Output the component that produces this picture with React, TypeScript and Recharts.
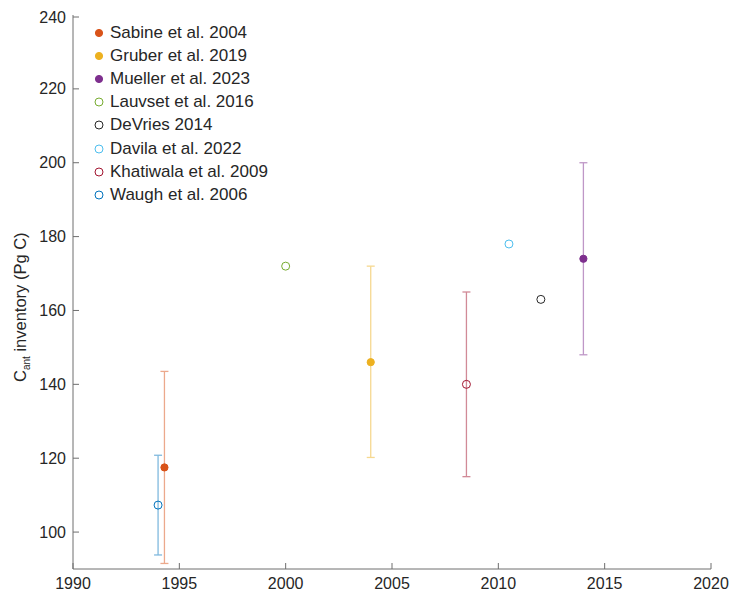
import React from 'react';
import { ScatterChart, Scatter, XAxis, YAxis, ErrorBar, Legend } from 'recharts';

// estimates of anthropogenic carbon inventory
const names = [
  'Sabine et al. 2004',
  'Gruber et al. 2019',
  'Mueller et al. 2023',
  'Lauvset et al. 2016',
  'DeVries 2014',
  'Davila et al. 2022',
  'Khatiwala et al. 2009',
  'Waugh et al. 2006',
];
const years = [1994.3, 2004, 2014, 2000, 2012, 2010.5, 2008.5, 1994];
const inventory = [117.5, 146, 174, 172, 163, 178, 140, 107.3];
const errLow = [26, 25.8, 26, 0, 0, 0, 25, 13.5];
const errHigh = [26, 26, 26, 0, 0, 0, 25, 13.5];
const filled = [true, true, true, false, false, false, false, false];

const xTicks = [1990, 1995, 2000, 2005, 2010, 2015, 2020];
const yTicks = [100, 120, 140, 160, 180, 200, 220, 240];

const colors = ['#D95319', '#EDB120', '#7E2F8E', '#77AC30', '#262626', '#4DBEEE', '#A2142F', '#0072BD'];

const W = 735;
const H = 585;
const PL = 65;
const PT = 7;
const PR = 703;
const PB = 561;
const AXIS = '#6e6e6e';
const TEXT = '#262626';
const FONT = '"Liberation Sans", Arial, sans-serif';

const lighten = (hex: string, t: number) => {
  const n = parseInt(hex.slice(1), 16);
  const ch = [(n >> 16) & 255, (n >> 8) & 255, n & 255].map((c) => Math.round(c + (255 - c) * t));
  return '#' + ch.map((c) => c.toString(16).padStart(2, '0')).join('');
};

const series = names.map((name, i) => ({
  name,
  color: colors[i],
  filled: filled[i],
  hasErr: errLow[i] > 0,
  data: [{ year: years[i], value: inventory[i], err: [errLow[i], errHigh[i]] }],
}));

const XTick = (props: any) => {
  const { x, payload } = props;
  return (
    <g>
      <line x1={x} y1={PB} x2={x} y2={PB - 6} stroke={AXIS} />
      <text x={x} y={PB + 20} textAnchor="middle" fontSize={16} fill={TEXT} fontFamily={FONT}>
        {payload.value}
      </text>
    </g>
  );
};

const YTick = (props: any) => {
  const { y, payload } = props;
  return (
    <g>
      <line x1={PL} y1={y} x2={PL + 6} y2={y} stroke={AXIS} />
      <text x={PL - 7} y={y} textAnchor="end" dominantBaseline="central" fontSize={16} fill={TEXT} fontFamily={FONT}>
        {payload.value}
      </text>
    </g>
  );
};

const YLabel = () => (
  <text x={18} y={374} transform="rotate(-90 18 374)" fontSize={16.5} fill={TEXT} fontFamily={FONT}>
    <tspan>C</tspan>
    <tspan fontSize={10} dy={4}>ant</tspan>
    <tspan dy={-4}> inventory (Pg C)</tspan>
  </text>
);

const marker = (color: string, isFilled: boolean) => (props: any) => (
  <circle
    cx={props.cx}
    cy={props.cy}
    r={isFilled ? 3.6 : 4}
    fill={isFilled ? color : 'none'}
    stroke={color}
    strokeWidth={1}
  />
);

const LegendBox = () => (
  <div style={{ fontFamily: FONT, fontSize: 17, color: TEXT }}>
    {series.map((s) => (
      <div key={s.name} style={{ height: 23.2, display: 'flex', alignItems: 'center', whiteSpace: 'nowrap' }}>
        <svg width={14} height={12} style={{ marginRight: 4 }}>
          <circle cx={7} cy={6} r={s.filled ? 3.6 : 4} fill={s.filled ? s.color : 'none'} stroke={s.color} />
        </svg>
        <span>{s.name}</span>
      </div>
    ))}
  </div>
);

export default function App() {
  return (
    <div style={{ width: W, height: H, fontFamily: FONT }}>
      <ScatterChart width={W} height={H} margin={{ top: PT, right: W - PR, bottom: 0, left: 20 }}>
        <XAxis
          type="number"
          dataKey="year"
          domain={[1990, 2020]}
          ticks={xTicks}
          allowDataOverflow
          height={H - PB}
          axisLine={{ stroke: AXIS }}
          tickLine={false}
          tick={<XTick />}
        />
        <YAxis
          type="number"
          dataKey="value"
          domain={[90, 240]}
          ticks={yTicks}
          allowDataOverflow
          width={PL - 20}
          axisLine={{ stroke: AXIS }}
          tickLine={false}
          tick={<YTick />}
          label={<YLabel />}
        />
        <Legend
          layout="horizontal"
          verticalAlign="middle"
          align="center"
          wrapperStyle={{ top: 13, left: 84, width: 'auto' }}
          content={<LegendBox />}
        />
        {series.map((s) => (
          <Scatter key={s.name} name={s.name} data={s.data} shape={marker(s.color, s.filled)} isAnimationActive={false}>
            {s.hasErr && (
              <ErrorBar dataKey="err" direction="y" width={4} stroke={lighten(s.color, 0.5)} strokeWidth={1.3} />
            )}
          </Scatter>
        ))}
      </ScatterChart>
    </div>
  );
}
